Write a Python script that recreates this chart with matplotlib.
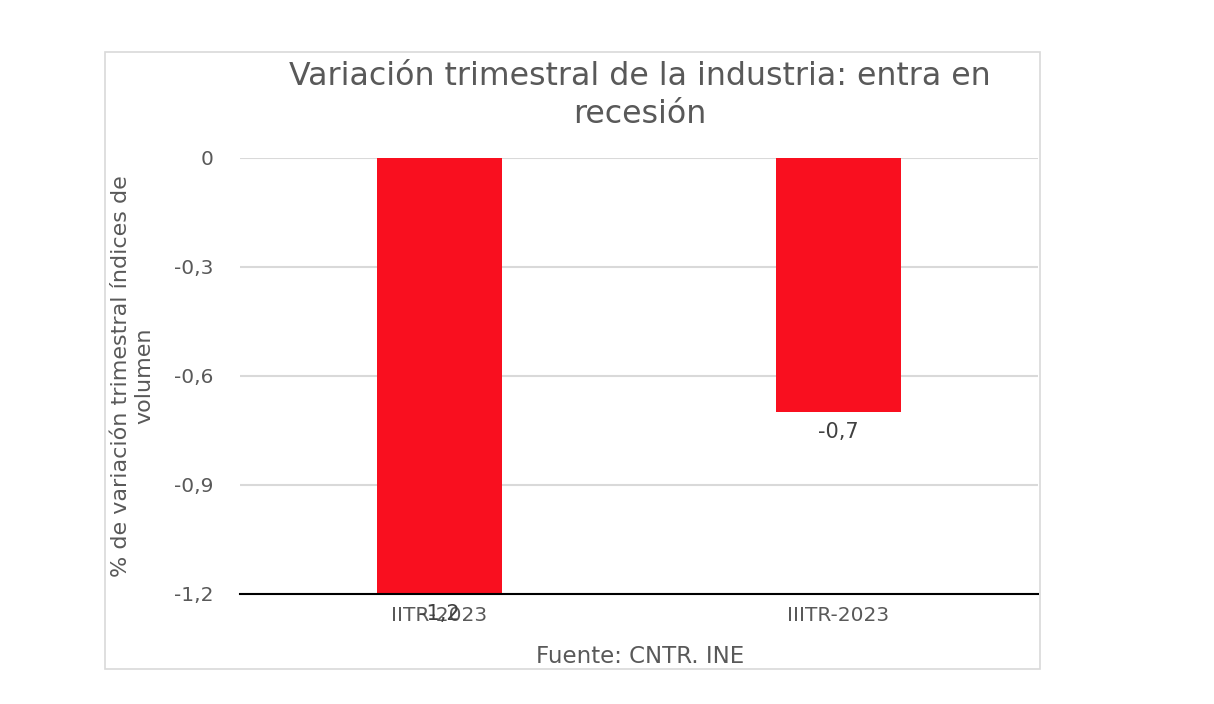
import matplotlib.pyplot as plt
from matplotlib.patches import Rectangle

# data
categories = ["IITR-2023", "IIITR-2023"]
values = [-1.2, -0.7]
value_labels = ["-1,2", "-0,7"]
yticks = [0, -0.3, -0.6, -0.9, -1.2]
ytick_labels = ["0", "-0,3", "-0,6", "-0,9", "-1,2"]

title = "Variación trimestral de la industria: entra en\nrecesión"
ylabel = "% de variación trimestral índices de\nvolumen"
source = "Fuente: CNTR. INE"

plt.rcParams['font.family'] = ['DejaVu Sans']
gray = "#595959"

fig = plt.figure(figsize=(12.14, 7.04), dpi=100)

# outer chart frame
fig.patches.append(Rectangle((0.0865, 0.0497), 0.7702, 0.8763, transform=fig.transFigure,
                             fill=False, edgecolor="#D9D9D9", linewidth=1.2))

ax = fig.add_axes([0.1977, 0.1563, 0.6573, 0.6193])
x = range(len(categories))
ax.bar(x, values, width=0.313, color="#F90F1F", zorder=2)

ax.set_xlim(-0.5, 1.5)
ax.set_ylim(-1.2, 0)
ax.set_yticks(yticks)
ax.set_yticklabels(ytick_labels)
ax.set_xticks(list(x))
ax.set_xticklabels(categories)
ax.tick_params(axis='y', length=0, pad=19, labelsize=14.5, labelcolor=gray)
ax.tick_params(axis='x', length=0, pad=9, labelsize=14.5, labelcolor=gray)
ax.yaxis.grid(True, color="#D9D9D9", linewidth=1.5, zorder=0)

for s in ['top', 'right', 'left']:
    ax.spines[s].set_visible(False)
ax.spines['bottom'].set_color("black")
ax.spines['bottom'].set_linewidth(1.5)
ax.spines['bottom'].set_zorder(3)

for xi, v, lab in zip(x, values, value_labels):
    ax.annotate(lab, (xi, v), xytext=(0, -7), textcoords='offset points',
                ha='center', va='top', fontsize=15, color="#404040")

ax.set_ylabel(ylabel, fontsize=16, color=gray, labelpad=14, linespacing=1.2)

fig.text(0.527, 0.913, title, ha='center', va='top', fontsize=22.8, color=gray,
         linespacing=1.3)
fig.text(0.527, 0.068, source, ha='center', va='center', fontsize=16.5, color=gray)

fig.savefig("out.png", dpi=100)
